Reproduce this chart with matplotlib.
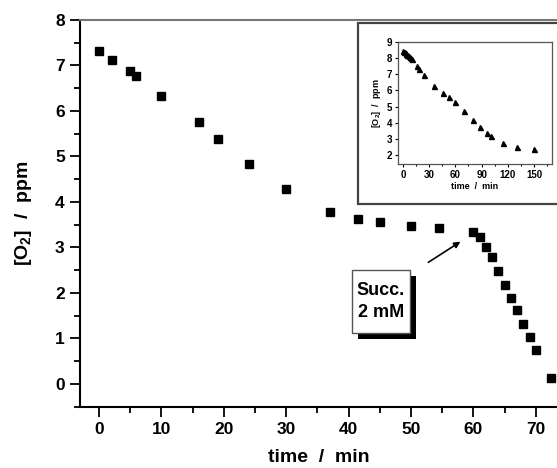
import matplotlib
matplotlib.use('Agg')
import matplotlib.pyplot as plt
import matplotlib.patheffects as pe
from matplotlib.patches import Rectangle

plt.rcParams['font.family'] = ['Liberation Sans', 'DejaVu Sans']
plt.rcParams['font.weight'] = 'bold'
plt.rcParams['mathtext.fontset'] = 'custom'
plt.rcParams['mathtext.rm'] = 'Liberation Sans:bold'
plt.rcParams['mathtext.default'] = 'rm'

# main curve: O2 vs time
time_main = [0, 2, 5, 6, 10, 16, 19, 24, 30, 37, 41.5, 45, 50, 54.5,
             60, 61, 62, 63, 64, 65, 66, 67, 68, 69, 70, 72.5]
o2_main = [7.32, 7.11, 6.87, 6.78, 6.34, 5.75, 5.39, 4.83, 4.28, 3.79, 3.62, 3.55, 3.47, 3.43,
           3.34, 3.24, 3.02, 2.78, 2.48, 2.18, 1.90, 1.63, 1.32, 1.03, 0.75, 0.13]

# inset curve
time_ins = [0, 1, 2, 3, 4, 5, 6, 7, 8, 9, 10, 16, 18, 24, 36, 46, 53, 60,
            70, 80, 88, 96, 101, 115, 130, 150]
o2_ins = [8.45, 8.4, 8.35, 8.3, 8.26, 8.22, 8.17, 8.12, 8.07, 8.02, 7.92, 7.49, 7.33, 6.93,
          6.29, 5.84, 5.57, 5.28, 4.72, 4.19, 3.73, 3.38, 3.19, 2.76, 2.47, 2.35]

W, H = 557, 468
fig = plt.figure(figsize=(W / 100, H / 100), dpi=100)

ax = fig.add_axes([80 / W, (H - 406.7) / H, 1 - 80 / W, (406.7 - 20) / H])
ax.set_zorder(0)
ax.plot(time_main, o2_main, 's', color='black', markersize=6.3)
ax.set_xlim(-3.05, 73.4)
ax.set_ylim(-0.5, 8)
ax.set_xticks(range(0, 80, 10))
ax.set_xticks(range(5, 75, 10), minor=True)
ax.set_yticks(range(0, 9))
ax.set_yticks([i + 0.5 for i in range(-1, 8)], minor=True)
ax.tick_params(which='major', direction='out', length=7, width=1.3, labelsize=12.5, pad=4)
ax.tick_params(which='minor', direction='out', length=4, width=1.3)
ax.spines['right'].set_visible(False)
ax.spines['top'].set_color('#777777')
ax.spines['top'].set_linewidth(1.5)
for s in ['left', 'bottom']:
    ax.spines[s].set_linewidth(1.5)
ax.set_xlabel('time  /  min', fontsize=14, fontweight='bold', labelpad=9)
ax.set_ylabel('[O$_2$]  /  ppm', fontsize=14, fontweight='bold', labelpad=15)

# label box with drop shadow
box = Rectangle((40.5, 1.12), 9.3, 1.39, facecolor='white', edgecolor='#555555', linewidth=1, zorder=3)
box.set_path_effects([pe.SimplePatchShadow(offset=(4.5, -4.5), shadow_rgbFace='black', alpha=1),
                      pe.Normal()])
ax.add_patch(box)
ax.text(45.15, 1.815, 'Succ.\n2 mM', fontsize=13, fontweight='bold', ha='center', va='center',
        linespacing=1.35, zorder=4)
ax.annotate('', xy=(58.3, 3.16), xytext=(52.4, 2.64),
            arrowprops=dict(arrowstyle='-|>', color='black', lw=1.2, mutation_scale=9))

# inset frame
frame = Rectangle((358 / W, (H - 204) / H), 1 - 358 / W + 0.01, (204 - 23) / H,
                  transform=fig.transFigure, facecolor='white', edgecolor='#444444', linewidth=1.6,
                  zorder=1)
fig.patches.append(frame)

axi = fig.add_axes([398 / W, (H - 164) / H, (552 - 398) / W, (164 - 42) / H])
axi.set_zorder(2)
axi.plot(time_ins, o2_ins, '^', color='black', markersize=3.6)
axi.set_xlim(-5.7, 170.6)
axi.set_ylim(1.44, 9)
axi.set_xticks(range(0, 151, 30))
axi.set_xticks(range(15, 171, 30), minor=True)
axi.set_yticks(range(2, 10))
axi.tick_params(which='major', direction='out', length=2.5, width=0.8, labelsize=7, pad=1.5)
axi.tick_params(which='minor', direction='out', length=1.5, width=0.8)
for s in axi.spines.values():
    s.set_linewidth(0.9)
    s.set_color('#555555')
axi.set_xlabel('time  /  min', fontsize=6.5, fontweight='bold', labelpad=2)
axi.set_ylabel('[O$_2$]  /  ppm', fontsize=6.5, fontweight='bold', labelpad=3)

fig.savefig('out.png', dpi=100)
